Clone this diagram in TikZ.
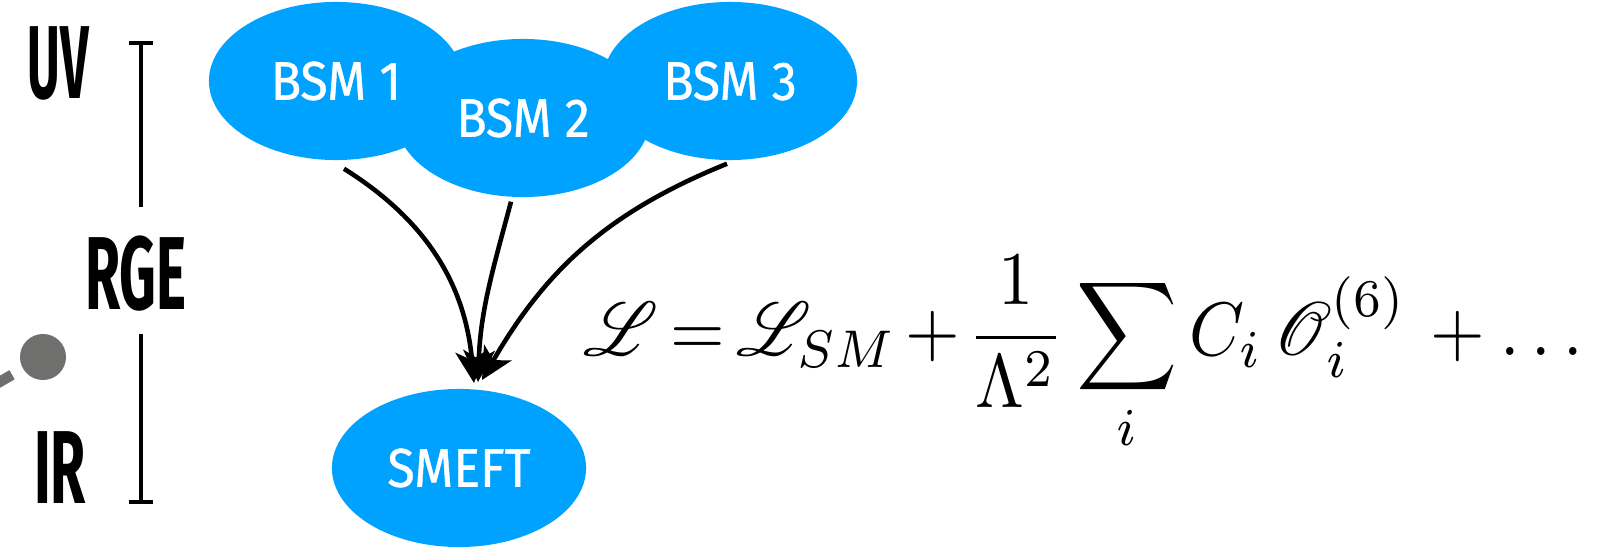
\documentclass[tikz,border=0pt]{standalone}
\usepackage{amsmath}
\usepackage{mathrsfs}
\usepackage{graphicx}
\usepackage{fontspec}
\newfontfamily\bubblefont[FakeStretch=0.92,FakeBold=0.7]{Fira Sans}
\newfontfamily\levelfont[FakeStretch=0.55]{Fira Sans}
\usetikzlibrary{arrows.meta,shapes.geometric}
\definecolor{bubble}{HTML}{00A2FF}
\definecolor{dotgray}{HTML}{6F706E}

\begin{document}
\begin{tikzpicture}[x=0.01cm,y=-0.01cm,>={Stealth[length=9pt,width=9pt,inset=2.5pt]},
 bsm/.style={ellipse,fill=bubble,minimum width=2.54cm,minimum height=1.58cm,inner sep=0pt,text=white,font=\bubblefont\fontsize{15.5}{18}\selectfont},
 level/.style={anchor=base,inner sep=0pt,font=\levelfont\bfseries\fontsize{29.5}{32}\selectfont},
 flow/.style={->,line width=1.3pt},
 bar/.style={line width=1.1pt}]
\useasboundingbox (0,0) rectangle (1603,549);
% models in the UV and the EFT in the IR
\node[bsm] (bsmone) at (336,81) {BSM 1};
\node[bsm] (bsmthree) at (730,81) {BSM 3};
\node[bsm] (bsmtwo) at (523,118) {BSM 2};
\node[bsm] (smeft) at (459,468) {SMEFT};
% energy scale
\node[level] (uv) at (58,99) {\scalebox{0.88}[1]{UV}};
\node[level] (rge) at (136,310) {RGE};
\node[level] (ir) at (60,503) {IR};
\coordinate (bartop) at (141,41); \coordinate (barup) at (141,207);
\coordinate (barlow) at (141,334); \coordinate (barbot) at (141,504);
\draw[bar,{Bar[width=7pt]}-] (bartop) -- (barup);
\draw[bar,-{Bar[width=7pt]}] (barlow) -- (barbot);
\node[circle,fill=dotgray,minimum size=0.46cm,inner sep=0pt] (dot) at (43,357) {};
\coordinate (offleft) at (-44,407);
\draw[dotgray,line width=3pt,dash pattern=on 30pt off 30pt,shorten <=3.4pt] (dot) -- (offleft);
% matching
\coordinate (tip) at (478,382);
\draw[flow] ([shift={(8,8)}]bsmone.south) to[out=-32,in=95] ([shift={(-4,1)}]tip);
\draw[flow] ([shift={(-12,4)}]bsmtwo.south) to[out=-105,in=88] (tip);
\draw[flow] ([shift={(-3,3)}]bsmthree.south) to[out=202,in=60] ([shift={(4,-2)}]tip);
\node[anchor=base west,inner sep=0pt] (lagr) at (583,356)
 {\scalebox{1}[1.08]{\resizebox{10.1cm}{!}{$\thickmuskip=3mu\medmuskip=2mu
 \mathscr{L} = \mathscr{L}_{SM} + \dfrac{1}{\Lambda^2}\displaystyle\sum_i C_i\,\mathscr{O}_i^{(6)} \mskip4mu+\mskip2mu \dots$}}};
\end{tikzpicture}
\end{document}
